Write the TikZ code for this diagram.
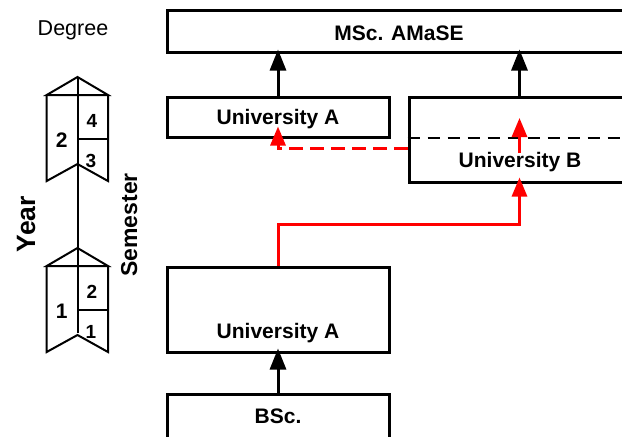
\documentclass[tikz,border=0pt]{standalone}
\usepackage{fontspec}
\setmainfont{Liberation Sans}
\usetikzlibrary{arrows.meta}
\begin{document}
\begin{tikzpicture}[x=1pt,y=-1pt,
  box/.style={draw,line width=3pt,inner sep=0pt,rectangle},
  txt/.style={font=\fontsize{21}{24}\selectfont\bfseries,inner sep=0pt,anchor=base},
  blk/.style={line width=3pt,-{Triangle[width=16pt,length=21pt]}},
  redarrow/.style={draw=red,line width=3pt,-{Triangle[width=15pt,length=19pt]},red},
  reddash/.style={redarrow,dash pattern=on 14pt off 7pt},
  chev/.style={line width=2pt,line join=miter},
  bigdig/.style={font=\fontsize{21}{24}\selectfont\bfseries,inner sep=0pt,anchor=base},
  smalldig/.style={font=\fontsize{19}{22}\selectfont\bfseries,inner sep=0pt,anchor=base}
]
\useasboundingbox (0,0) rectangle (622,437);
\clip (0,0) rectangle (622,437);

% boxes
\node[box,minimum width=463pt,minimum height=42pt] (msc) at (398.5,31) {};
\node[box,minimum width=222pt,minimum height=40pt] (ua) at (278,117) {};
\node[box,minimum width=221pt,minimum height=85pt] (ub) at (519.5,139.5) {};
\node[box,minimum width=222pt,minimum height=85pt] (ua2) at (278,309.5) {};
\node[box,minimum width=222pt,minimum height=51pt] (bsc) at (278,419.5) {};

% texts
\node[txt] (tmsc) at (399,40) {MSc. AMaSE};
\node[txt] (tua) at (278,124) {University A};
\node[txt] (tub) at (520,167) {University B};
\node[txt] (tua2) at (278,338) {University A};
\node[txt] (tbsc) at (278,423) {BSc.};

% dashed divider in University B
\coordinate (dv) at (0,138);
\draw[line width=2pt,dash pattern=on 12pt off 8pt] (ub.west |- dv) -- (ub.east |- dv);

% black arrows
\draw[blk,shorten >=-4pt] (ua.north) -- (ua.north |- msc.south);
\draw[blk,shorten >=-4pt] (ub.north) -- (ub.north |- msc.south);
\draw[blk,shorten >=-5pt] (bsc.north) -- (ua2.south);

% red arrows
\coordinate (rc) at (519.5,224);
\draw[redarrow,shorten >=-6pt] (ua2.north) -- (ua2.north |- rc) -| (ub.south);
\coordinate (r1) at (519.5,153);
\coordinate (r2) at (519.5,118);
\draw[redarrow] (r1) -- (r2);
\coordinate (rd) at (0,148);
\draw[reddash,shorten >=-12pt] (ub.west |- rd) -| (ua.south);

% left side labels
\node[font=\fontsize{21.5}{24}\selectfont,inner sep=0pt,anchor=base] (deg) at (73,35) {Degree};
\node[font=\fontsize{26.5}{30}\selectfont\bfseries,inner sep=0pt,anchor=base,rotate=90] (year) at (35,224) {Year};
\node[font=\fontsize{23}{26}\selectfont\bfseries,inner sep=0pt,anchor=base,rotate=90] (sem) at (137,225) {Semester};

% timeline
\draw[line width=2pt] (77.5,77) -- (77.5,333);
\foreach \dy in {0,171}{
  \begin{scope}[yshift=-\dy pt]
    \draw[chev] (46.7,95) -- (77.5,77) -- (108,95) -- cycle;
    \draw[chev] (46.7,95) -- (46.7,181) -- (77.5,164) -- (108,181) -- (108,95);
    \draw[chev] (77.5,139) -- (108,139);
  \end{scope}
}
\node[bigdig] (y2) at (61.7,147) {2};
\node[smalldig] (s4) at (92,127) {4};
\node[smalldig] (s3) at (91,167) {3};
\node[bigdig] (y1) at (61.7,318) {1};
\node[smalldig] (s2) at (92,298) {2};
\node[smalldig] (s1) at (91,338) {1};
\end{tikzpicture}
\end{document}
